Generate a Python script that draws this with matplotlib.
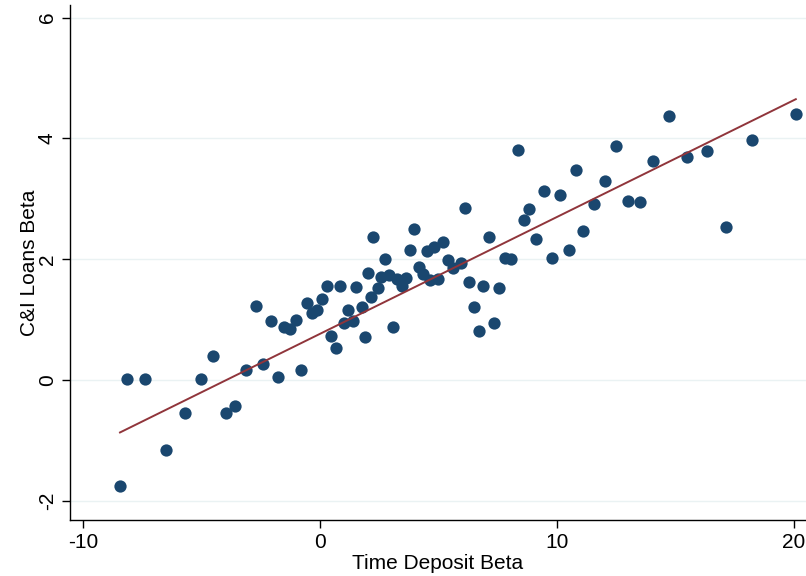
import numpy as np
import matplotlib
matplotlib.use("Agg")
import matplotlib.pyplot as plt

# time deposit beta (x) and C&I loans beta (y)
time_dep_beta = [
    -8.44, -8.13, -7.38, -6.51, -5.71, -5.03, -4.50, -3.98, -3.59, -3.14,
    -2.70, -2.39, -2.05, -1.77, -1.51, -1.27, -1.03, -0.81, -0.56, -0.35,
    -0.14, 0.07, 0.28, 0.48, 0.66, 0.86, 1.03, 1.18, 1.41, 1.54,
    1.76, 1.89, 2.01, 2.14, 2.25, 2.43, 2.59, 2.73, 2.92, 3.07,
    3.24, 3.45, 3.63, 3.80, 3.95, 4.16, 4.33, 4.53, 4.64, 4.82,
    4.99, 5.18, 5.40, 5.62, 5.95, 6.12, 6.30, 6.49, 6.70, 6.88,
    7.12, 7.33, 7.55, 7.81, 8.06, 8.34, 8.61, 8.83, 9.11, 9.44,
    9.79, 10.13, 10.49, 10.81, 11.11, 11.57, 12.01, 12.50, 13.00, 13.51,
    14.07, 14.73, 15.47, 16.33, 17.13, 18.23, 20.08,
]
ci_loans_beta = [
    -1.75, 0.02, 0.02, -1.16, -0.54, 0.02, 0.40, -0.54, -0.44, 0.16,
    1.23, 0.26, 0.97, 0.05, 0.87, 0.85, 1.00, 0.16, 1.28, 1.11,
    1.16, 1.34, 1.56, 0.73, 0.53, 1.56, 0.95, 1.16, 0.97, 1.54,
    1.21, 0.71, 1.77, 1.38, 2.36, 1.53, 1.70, 2.00, 1.73, 0.88,
    1.67, 1.56, 1.69, 2.15, 2.50, 1.87, 1.75, 2.14, 1.66, 2.21,
    1.67, 2.28, 1.98, 1.85, 1.93, 2.84, 1.62, 1.20, 0.81, 1.56,
    2.37, 0.94, 1.52, 2.02, 2.01, 3.81, 2.65, 2.83, 2.34, 3.13,
    2.02, 3.06, 2.16, 3.47, 2.46, 2.92, 3.30, 3.88, 2.96, 2.95,
    3.63, 4.37, 3.70, 3.80, 2.54, 3.98, 4.40,
]
# fitted line end points as drawn in the chart
fit_x = [-8.44, 20.08]
fit_y = [-0.87, 4.65]
y_ticks = [-2, 0, 2, 4, 6]
x_ticks = [-10, 0, 10, 20]

plt.rcParams['font.family'] = ['Liberation Sans', 'DejaVu Sans']
plt.rcParams['axes.unicode_minus'] = False

fig = plt.figure(figsize=(8.06, 5.76), dpi=100)
ax = fig.add_axes([70 / 806, 56 / 576, 736 / 806, 515 / 576])

for t in y_ticks:
    ax.axhline(t, color='#eaf2f3', linewidth=1.0, zorder=0)

ax.scatter(time_dep_beta, ci_loans_beta, s=78, color='#1a476f', linewidths=0, zorder=2)
ax.plot(fit_x, fit_y, color='#90353b', linewidth=1.4, zorder=3)

ax.set_xlim(-10.55, 20.51)
ax.set_ylim(-2.32, 6.21)
ax.set_xticks(x_ticks)
ax.set_yticks(y_ticks)
ax.set_yticklabels([str(t) for t in y_ticks], rotation=90, va='center')
ax.tick_params(direction='out', length=6, width=1, labelsize=15, colors='black')

ax.spines['top'].set_visible(False)
ax.spines['right'].set_visible(False)
ax.spines['left'].set_linewidth(1)
ax.spines['bottom'].set_linewidth(1)

ax.set_xlabel('Time Deposit Beta', fontsize=15, labelpad=1)
ax.set_ylabel('C&I Loans Beta', fontsize=15, labelpad=-1)

fig.savefig('out.png', dpi=100)
